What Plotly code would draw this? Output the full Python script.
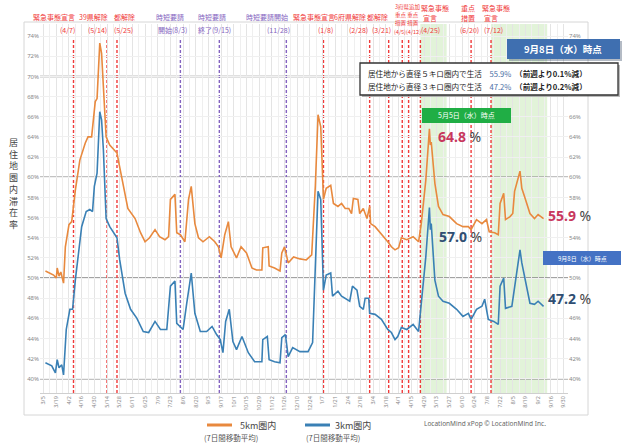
import plotly.graph_objects as go

W, H = 622, 447
ML, MR, MT, MB = 40, 54, 24, 54
PW = W - ML - MR
PH = H - MT - MB

def px(x):
    return (x - ML) / PW

def py(y):
    return (H - MB - y) / PH

# ---------------- data ----------------
dates_5km = [
    "2020-03-07", "2020-03-12", "2020-03-16", "2020-03-19", "2020-03-20", "2020-03-22", "2020-03-24", "2020-03-27", "2020-03-29",
    "2020-04-02", "2020-04-05", "2020-04-09", "2020-04-14", "2020-04-20", "2020-04-23", "2020-04-27",
    "2020-05-01", "2020-05-03", "2020-05-06", "2020-05-08", "2020-05-10", "2020-05-13", "2020-05-17", "2020-05-25", "2020-05-28",
    "2020-06-03", "2020-06-06", "2020-06-14", "2020-06-20", "2020-06-25", "2020-06-30",
    "2020-07-06", "2020-07-11", "2020-07-17", "2020-07-21", "2020-07-23", "2020-07-28", "2020-07-30",
    "2020-08-03", "2020-08-08", "2020-08-12", "2020-08-15", "2020-08-19", "2020-08-23", "2020-08-28",
    "2020-09-04", "2020-09-10", "2020-09-14", "2020-09-17", "2020-09-21", "2020-09-25", "2020-09-28",
    "2020-10-04", "2020-10-09", "2020-10-15", "2020-10-21", "2020-10-26",
    "2020-11-01", "2020-11-02", "2020-11-08", "2020-11-09", "2020-11-15", "2020-11-21", "2020-11-23", "2020-11-26", "2020-11-30",
    "2020-12-06", "2020-12-13", "2020-12-20", "2020-12-26", "2020-12-30",
    "2021-01-02", "2021-01-05", "2021-01-08", "2021-01-11", "2021-01-16", "2021-01-19", "2021-01-24", "2021-01-28",
    "2021-02-01", "2021-02-05", "2021-02-08", "2021-02-10", "2021-02-15", "2021-02-17", "2021-02-21", "2021-02-25", "2021-02-28",
    "2021-03-01", "2021-03-06", "2021-03-11", "2021-03-20", "2021-03-24", "2021-03-28",
    "2021-04-01", "2021-04-04", "2021-04-10", "2021-04-17", "2021-04-23", "2021-04-26",
    "2021-05-01", "2021-05-03", "2021-05-05", "2021-05-06", "2021-05-07", "2021-05-11", "2021-05-15", "2021-05-20", "2021-05-27",
    "2021-06-04", "2021-06-11", "2021-06-17", "2021-06-20", "2021-06-26",
    "2021-07-02", "2021-07-07", "2021-07-10", "2021-07-16", "2021-07-20", "2021-07-22", "2021-07-26", "2021-07-28",
    "2021-08-02", "2021-08-05", "2021-08-07", "2021-08-13", "2021-08-15", "2021-08-18", "2021-08-24", "2021-08-29",
    "2021-09-02", "2021-09-08",
]
values_5km = [
    50.7, 50.5, 50.3, 50.0, 51.0, 50.2, 50.6, 49.5, 53.1,
    55.3, 55.6, 58.7, 61.7, 63.4, 64.0, 64.0,
    67.5, 67.8, 73.3, 72.3, 69.0, 64.0, 63.2, 62.4, 61.0,
    58.4, 56.9, 55.9, 54.5, 53.6, 54.0,
    54.8, 54.1, 53.8, 54.1, 57.8, 58.3, 54.5,
    54.3, 53.6, 57.8, 59.1, 55.4, 54.0, 53.6,
    54.1, 53.6, 53.1, 52.0, 54.3, 55.6, 53.1,
    52.0, 53.1, 52.5, 51.0, 50.8,
    50.8, 53.0, 53.1, 51.2, 51.0, 50.7, 52.5, 53.1, 51.5,
    52.1, 51.9, 51.8, 52.3, 59.1,
    66.2, 65.0, 57.8, 58.9, 59.2, 57.4, 57.1, 57.4,
    56.9, 56.9, 56.4, 57.9, 57.8, 56.4, 56.9, 55.9, 57.1,
    55.4, 55.1, 54.6, 53.6, 53.1, 52.8,
    53.0, 54.0, 53.8, 54.1, 53.6, 55.4,
    59.7, 62.0, 64.8, 63.2, 63.5, 59.4, 57.1, 56.3, 56.1,
    55.4, 55.1, 55.1, 54.8, 55.8,
    55.4, 55.8, 54.6, 54.5, 54.3, 57.4, 58.4, 55.8,
    56.1, 56.4, 58.6, 60.6, 58.9, 58.1, 56.4, 55.9,
    56.3, 55.9,
]

dates_3km = [
    "2020-03-07", "2020-03-14", "2020-03-18", "2020-03-20", "2020-03-22", "2020-03-25", "2020-03-27", "2020-03-30",
    "2020-04-03", "2020-04-06", "2020-04-09", "2020-04-13", "2020-04-16", "2020-04-21", "2020-04-25", "2020-04-28", "2020-04-30",
    "2020-05-03", "2020-05-06", "2020-05-08", "2020-05-10", "2020-05-13", "2020-05-17", "2020-05-25", "2020-05-28",
    "2020-06-03", "2020-06-09", "2020-06-16", "2020-06-23", "2020-06-29",
    "2020-07-06", "2020-07-12", "2020-07-19", "2020-07-23", "2020-07-28", "2020-07-30",
    "2020-08-06", "2020-08-10", "2020-08-15", "2020-08-19", "2020-08-25",
    "2020-09-01", "2020-09-07", "2020-09-12", "2020-09-16", "2020-09-19", "2020-09-22", "2020-09-26", "2020-09-30",
    "2020-10-04", "2020-10-10", "2020-10-17", "2020-10-24",
    "2020-11-01", "2020-11-02", "2020-11-07", "2020-11-09", "2020-11-15", "2020-11-21", "2020-11-23", "2020-11-27", "2020-11-30",
    "2020-12-05", "2020-12-13", "2020-12-22", "2020-12-27", "2020-12-31",
    "2021-01-02", "2021-01-05", "2021-01-08", "2021-01-11", "2021-01-16", "2021-01-18", "2021-01-24", "2021-01-28",
    "2021-02-01", "2021-02-06", "2021-02-09", "2021-02-14", "2021-02-17", "2021-02-21", "2021-02-23", "2021-02-27", "2021-02-28",
    "2021-03-06", "2021-03-13", "2021-03-20", "2021-03-24", "2021-03-28", "2021-03-31",
    "2021-04-04", "2021-04-10", "2021-04-17", "2021-04-23", "2021-04-26",
    "2021-05-01", "2021-05-05", "2021-05-06", "2021-05-07", "2021-05-11", "2021-05-15", "2021-05-20", "2021-05-27",
    "2021-06-04", "2021-06-11", "2021-06-17", "2021-06-20", "2021-06-26",
    "2021-07-02", "2021-07-05", "2021-07-09", "2021-07-15", "2021-07-20", "2021-07-22", "2021-07-26", "2021-07-28",
    "2021-08-04", "2021-08-07", "2021-08-13", "2021-08-15", "2021-08-18", "2021-08-24", "2021-08-29",
    "2021-09-02", "2021-09-08",
]
values_3km = [
    41.6, 41.3, 40.6, 41.9, 41.1, 41.4, 40.4, 44.9,
    46.9, 46.9, 49.8, 53.1, 55.1, 56.6, 56.8, 56.6, 59.1,
    60.4, 66.5, 65.7, 62.7, 55.9, 55.1, 54.0, 51.8,
    48.5, 46.9, 46.0, 44.7, 44.6,
    45.7, 44.9, 44.9, 49.2, 49.7, 45.5,
    44.9, 47.5, 50.5, 46.5, 44.7,
    44.7, 45.2, 44.4, 43.9, 42.6, 45.7, 46.9, 43.7,
    42.9, 44.2, 42.6, 41.7,
    41.7, 43.9, 44.2, 41.9, 41.7, 41.6, 44.1, 44.4, 42.2,
    43.1, 42.7, 42.7, 43.6, 52.5,
    58.6, 57.8, 48.8, 50.3, 50.5, 48.2, 48.7, 48.2,
    48.0, 47.7, 49.2, 48.8, 47.2, 46.9, 48.0, 48.0, 46.5,
    46.4, 45.9, 44.9, 44.6, 43.9, 44.2,
    45.1, 44.9, 45.4, 44.7, 47.5,
    52.1, 57.0, 54.8, 55.4, 49.8, 48.2, 47.7, 47.5,
    46.9, 46.2, 46.5, 45.9, 46.9,
    47.2, 47.9, 45.9, 45.7, 45.4, 49.2, 50.0, 47.0,
    47.2, 49.2, 52.8, 51.5, 50.2, 47.5, 47.4,
    47.7, 47.2,
]
assert len(dates_5km) == len(values_5km)
assert len(dates_3km) == len(values_3km)

red_event_dates = ["2020-04-07", "2020-05-14", "2020-05-25", "2021-01-08", "2021-02-28",
                   "2021-03-21", "2021-04-05", "2021-04-12", "2021-04-25", "2021-06-20", "2021-07-12"]
purple_event_dates = ["2020-08-03", "2020-09-15", "2020-11-28"]
green_starts = ["2021-04-25", "2021-07-12"]
green_ends = ["2021-05-24", "2021-09-12"]
major_levels = [40, 50, 60, 70]
right_tick_values = [40, 42, 44, 46, 50, 54, 58, 60, 62, 64, 66, 74]

series_names = ["5km圏内", "3km圏内"]
latest_values = [55.9, 47.2]
latest_change = ["0.1", "0.2"]
peak_values = [64.8, 57.0]

ORANGE = "#E8893E"
BLUE = "#3A80B5"
RED = "#F03A3A"
PURPLE = "#8463C0"
PINK = "#C8375D"
NAVY = "#2F4E72"
FONT = "Noto Sans CJK JP"

fig = go.Figure()
fig.add_trace(go.Scatter(x=dates_5km, y=values_5km, mode="lines", name=series_names[0],
                         line=dict(color=ORANGE, width=1.6), showlegend=False))
fig.add_trace(go.Scatter(x=dates_3km, y=values_3km, mode="lines", name=series_names[1],
                         line=dict(color=BLUE, width=1.6), showlegend=False))
# invisible trace to activate right-hand axis
fig.add_trace(go.Scatter(x=dates_5km, y=values_5km, mode="lines", yaxis="y2",
                         line=dict(width=0), opacity=0, hoverinfo="skip", showlegend=False))

shapes = []
# frame
shapes.append(dict(type="rect", xref="paper", yref="paper", x0=px(24), x1=px(588), y0=py(415), y1=py(22),
                   line=dict(color="#d6d6d6", width=1), fillcolor="rgba(0,0,0,0)", layer="below"))
for s, e in zip(green_starts, green_ends):
    shapes.append(dict(type="rect", xref="x", yref="paper", x0=s, x1=e, y0=0, y1=1,
                       fillcolor="rgba(150,212,120,0.28)", line=dict(width=0), layer="between"))
for lv in major_levels:
    shapes.append(dict(type="line", xref="paper", yref="y", x0=0, x1=1, y0=lv, y1=lv,
                       line=dict(color="#858585", width=1.4), layer="between"))
for d in red_event_dates:
    shapes.append(dict(type="line", xref="x", yref="paper", x0=d, x1=d, y0=0, y1=py(38),
                       line=dict(color=RED, width=1.4, dash="3px,2px"), layer="between"))
for d in purple_event_dates:
    shapes.append(dict(type="line", xref="x", yref="paper", x0=d, x1=d, y0=0, y1=py(38),
                       line=dict(color=PURPLE, width=1.4, dash="3px,2px"), layer="between"))

def rect(x0, y0, x1, y1, fill, line=None):
    shapes.append(dict(type="rect", xref="paper", yref="paper", x0=px(x0), x1=px(x1), y0=py(y1), y1=py(y0),
                       fillcolor=fill, line=line or dict(width=0), layer="above"))

# info box (shadow + box), header, green, small blue box
rect(362, 65, 620, 97, "rgba(60,60,60,0.35)")
rect(360, 63, 618, 95, "white", dict(color="#333", width=1.3))
rect(509, 41, 622, 61, "rgba(40,60,90,0.35)")
rect(507, 39, 620, 59, "#3F6FB0")
rect(422, 108, 511, 123, "#20AE45")
rect(543, 251, 621, 265, "#4472C4")

# legend swatches
shapes.append(dict(type="line", xref="paper", yref="paper", x0=px(207), x1=px(232), y0=py(425), y1=py(425),
                   line=dict(color=ORANGE, width=3)))
shapes.append(dict(type="line", xref="paper", yref="paper", x0=px(305), x1=px(330), y0=py(425), y1=py(425),
                   line=dict(color=BLUE, width=3)))

ann = []

def txt(text, x, y, size=7, color="#333", xanchor="center", family=FONT):
    ann.append(dict(text=text, x=px(x), y=py(y), xref="paper", yref="paper", xanchor=xanchor,
                    yanchor="middle", showarrow=False, font=dict(size=size, color=color, family=family)))

# event labels
event_labels = [
    ("緊急事態宣言", 54, 17, RED), ("(4/7)", 67, 30, RED),
    ("39県解除", 93, 17, RED), ("(5/14)", 97, 30, RED),
    ("都解除", 124, 17, RED), ("(5/25)", 123, 30, RED),
    ("時短要請", 170, 17, PURPLE), ("開始(8/3)", 172, 30, PURPLE),
    ("時短要請", 212, 17, PURPLE), ("終了(9/15)", 214, 30, PURPLE),
    ("時短要請開始", 267, 17, PURPLE), ("(11/28)", 278, 30, PURPLE),
    ("緊急事態宣言", 314, 17, RED), ("(1/8)", 325, 30, RED),
    ("6府県解除", 350, 17, RED), ("(2/28)", 358, 30, RED),
    ("都解除", 377, 17, RED), ("(3/21)", 381, 30, RED),
    ("緊急事態", 435, 8, RED), ("宣言", 430, 18, RED), ("(4/25)", 430, 30, RED),
    ("重点", 468, 8, RED), ("措置", 468, 18, RED), ("(6/20)", 469, 30, RED),
    ("緊急事態", 496, 8, RED), ("宣言", 491, 18, RED), ("(7/12)", 493, 30, RED),
]
for t, x, y, c in event_labels:
    txt(t, x, y, 7, c)
for t, y in [("3府県追加", 7), ("重点 重点", 15), ("措置 措置", 23), ("(4/5)(4/12)", 32)]:
    txt(t, 407, y, 5.5, RED)

# y axis title
txt("<br>".join(list("居住地圏内滞在率")), 13, 183, 9, "#444")

# info box text
for i, yy in enumerate([74, 86]):
    km = "５" if i == 0 else "３"
    txt(f"居住地から直径{km}キロ圏内で生活　<span style='color:#4A6FA5'>{latest_values[i]:.1f}%</span>　"
        f"<b>（前週より{latest_change[i]}%減）</b>", 366, yy, 7.6, "#222", "left")
txt("<b>9月8日（水）時点</b>", 563, 49, 9.5, "white")
txt("5月5日（水）時点", 466, 115.5, 7, "white")
txt("9月8日（水）時点", 582, 258, 6, "white")

# big values
def big(val, color, x, y):
    ann.append(dict(text=f"<b><span style='color:{color}'>{val:.1f}</span></b> <span style='color:#444'>%</span>",
                    x=px(x), y=py(y), xref="paper", yref="paper", xanchor="left", yanchor="middle",
                    showarrow=False, font=dict(size=14, family="Noto Sans")))

big(peak_values[0], PINK, 436, 136)
big(peak_values[1], NAVY, 437, 236)
big(latest_values[0], PINK, 546, 215)
big(latest_values[1], NAVY, 546, 298)

# legend text
txt(series_names[0], 238, 425, 9, "#444", "left")
txt("(7日間移動平均)", 202, 437, 7.5, "#555", "left")
txt(series_names[1], 333, 425, 9, "#444", "left")
txt("(7日間移動平均)", 304, 437, 7.5, "#555", "left")
txt("LocationMind xPop © LocationMind Inc.", 422, 424, 6.5, "#666", "left", "Noto Sans")

yrange = [38.6, 75.2]
fig.update_layout(
    width=W, height=H, margin=dict(l=ML, r=MR, t=MT, b=MB),
    paper_bgcolor="white", plot_bgcolor="white",
    font=dict(family=FONT, size=7, color="#777"),
    shapes=shapes, annotations=ann, showlegend=False,
    xaxis=dict(type="date", range=["2020-03-01", "2021-10-05"], tick0="2020-03-05",
               dtick=14 * 86400000, tickformat="%-m/%-d", tickangle=-90,
               tickfont=dict(size=5.5, color="#888", family="Noto Sans"),
               showgrid=True, gridcolor="#e4e4e4", gridwidth=1,
               minor=dict(dtick=7 * 86400000, tick0="2020-03-05", showgrid=True, gridcolor="#efefef"),
               showline=True, linecolor="#cfcfcf", zeroline=False, ticks=""),
    yaxis=dict(range=yrange, dtick=2, ticksuffix="%", tickfont=dict(size=6, color="#888", family="Noto Sans"),
               showgrid=True, gridcolor="#f0f0f0", zeroline=False, showline=False, ticks=""),
    yaxis2=dict(range=yrange, tickmode="array", tickvals=right_tick_values,
                ticktext=[f"{v}%" for v in right_tick_values], overlaying="y", side="right",
                tickfont=dict(size=6, color="#888", family="Noto Sans"),
                showgrid=False, zeroline=False, showline=False, ticks=""),
)

fig.write_html("out.html")
